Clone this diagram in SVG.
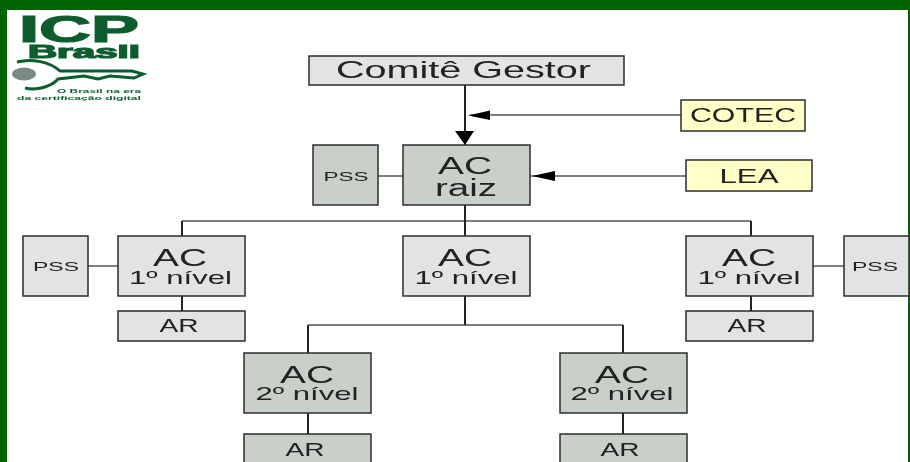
<svg xmlns="http://www.w3.org/2000/svg" width="910" height="462" viewBox="0 0 910 462">
<style>
.n{stroke:#2b2b2b;stroke-width:1.5}
.g{fill:#e3e3e3}.d{fill:#c9d0ca}.y{fill:#ffffc8}
text{font-family:"Liberation Sans",Arial,sans-serif;fill:#222;text-anchor:middle}
.h{fill:none;stroke:#555;stroke-width:1.6}
.v{fill:none;stroke:#222;stroke-width:2}
.l text{fill:#0b5c2f;font-weight:bold}
.l .t{stroke:#0b5c2f;stroke-width:1.2}
</style>
<defs><filter id="b" x="-5%" y="-5%" width="110%" height="110%"><feGaussianBlur stdDeviation="0.45"/></filter></defs>
<rect width="910" height="462" fill="#fff"/>
<g id="frame" fill="#006400"><rect width="910" height="10"/><rect width="7" height="462"/><rect x="908" width="2" height="462"/></g>
<g id="logo" class="l" filter="url(#b)">
<text class="t" x="79" y="42" font-size="37" textLength="120" lengthAdjust="spacingAndGlyphs">ICP</text>
<text class="t" x="84" y="57.500" font-size="18" textLength="112" lengthAdjust="spacingAndGlyphs">Brasil</text>
<ellipse cx="24" cy="74" rx="12" ry="6.500" fill="#7c8a84"/>
<path d="M17 62C32 58 50 62 60 71L132 71L143 74L134 78L110 76L98 79L84 76L58 79C52 86 38 91 25 88" fill="none" stroke="#0b5c2f" stroke-width="3"/>
<text x="99" y="93" font-size="5.500" textLength="84" lengthAdjust="spacingAndGlyphs">O Brasil na era</text>
<text x="79" y="99.500" font-size="5.500" textLength="124" lengthAdjust="spacingAndGlyphs">da certificação digital</text>
</g>
<g id="connectors" filter="url(#b)">
<path class="h" d="M470 115H681M378 176H403M530 176H686M182 221H751M88 266H118M813 266H844M308 325H623"/>
<path class="v" d="M465 85V145M465 205V236M182 221V236M751 221V236M182 296V311M751 296V311M465 296V325M308 325V353M623 325V353M308 413V434M623 413V434"/>
<path d="M455 131H474L465 145Z M468 115.500L490 110.500V120Z M532 176L555 171V181Z" fill="#000"/>
</g>
<g filter="url(#b)">
<g id="comite"><rect class="n g" x="309" y="56" width="315" height="29"/><text x="463.500" y="78" font-size="24" textLength="255" lengthAdjust="spacingAndGlyphs">Comitê Gestor</text></g>
<g id="cotec"><rect class="n y" x="681" y="100" width="124" height="31"/><text x="743" y="122" font-size="20" textLength="106" lengthAdjust="spacingAndGlyphs">COTEC</text></g>
<g id="lea"><rect class="n y" x="686" y="160" width="126" height="31"/><text x="749" y="183" font-size="20" textLength="59" lengthAdjust="spacingAndGlyphs">LEA</text></g>
<g id="pss-raiz"><rect class="n d" x="313" y="145" width="65" height="60"/><text x="346" y="180.500" font-size="12" textLength="45" lengthAdjust="spacingAndGlyphs">PSS</text></g>
<g id="ac-raiz"><rect class="n d" x="403" y="145" width="127" height="60"/><text x="465" y="174" font-size="24" textLength="54" lengthAdjust="spacingAndGlyphs">AC</text><text x="466" y="196" font-size="23" textLength="62" lengthAdjust="spacingAndGlyphs">raiz</text></g>
<g id="pss-esq"><rect class="n g" x="23" y="236" width="65" height="60"/><text x="56" y="270.500" font-size="12" textLength="46" lengthAdjust="spacingAndGlyphs">PSS</text></g>
<g id="ac1-esq"><rect class="n g" x="118" y="236" width="127" height="60"/><text x="180" y="266" font-size="24" textLength="54" lengthAdjust="spacingAndGlyphs">AC</text><text x="180.500" y="284" font-size="19" textLength="103" lengthAdjust="spacingAndGlyphs">1º nível</text></g>
<g id="ar-esq"><rect class="n g" x="118" y="311" width="127" height="30"/><text x="179" y="332" font-size="18" textLength="39" lengthAdjust="spacingAndGlyphs">AR</text></g>
<g id="ac1-centro"><rect class="n g" x="403" y="236" width="127" height="60"/><text x="465" y="266" font-size="24" textLength="54" lengthAdjust="spacingAndGlyphs">AC</text><text x="466" y="284" font-size="19" textLength="103" lengthAdjust="spacingAndGlyphs">1º nível</text></g>
<g id="ac1-dir"><rect class="n g" x="686" y="236" width="127" height="60"/><text x="749" y="266" font-size="24" textLength="54" lengthAdjust="spacingAndGlyphs">AC</text><text x="749" y="284" font-size="19" textLength="103" lengthAdjust="spacingAndGlyphs">1º nível</text></g>
<g id="pss-dir"><rect class="n g" x="844" y="236" width="65" height="60"/><text x="875" y="270.500" font-size="12" textLength="46" lengthAdjust="spacingAndGlyphs">PSS</text></g>
<g id="ar-dir"><rect class="n g" x="686" y="311" width="127" height="30"/><text x="747" y="332" font-size="18" textLength="39" lengthAdjust="spacingAndGlyphs">AR</text></g>
<g id="ac2-esq"><rect class="n d" x="244" y="353" width="127" height="60"/><text x="307" y="383" font-size="24" textLength="54" lengthAdjust="spacingAndGlyphs">AC</text><text x="307" y="400" font-size="19" textLength="103" lengthAdjust="spacingAndGlyphs">2º nível</text></g>
<g id="ar2-esq"><rect class="n d" x="244" y="434" width="127" height="32"/><text x="305" y="456" font-size="18" textLength="39" lengthAdjust="spacingAndGlyphs">AR</text></g>
<g id="ac2-dir"><rect class="n d" x="560" y="353" width="127" height="60"/><text x="622" y="383" font-size="24" textLength="54" lengthAdjust="spacingAndGlyphs">AC</text><text x="622" y="400" font-size="19" textLength="103" lengthAdjust="spacingAndGlyphs">2º nível</text></g>
<g id="ar2-dir"><rect class="n d" x="560" y="434" width="127" height="32"/><text x="620" y="456" font-size="18" textLength="39" lengthAdjust="spacingAndGlyphs">AR</text></g>
</g>
</svg>
